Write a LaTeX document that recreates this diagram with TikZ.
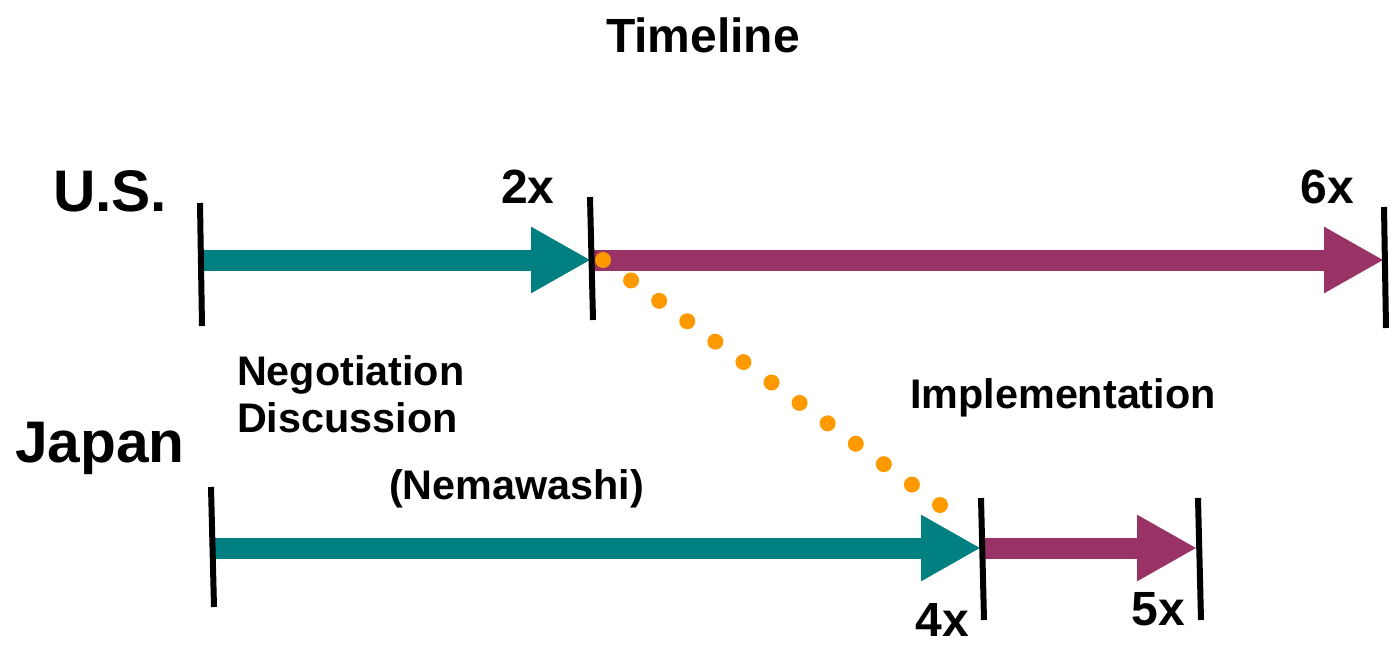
\documentclass[tikz,border=0pt]{standalone}
\usepackage{fontspec}
\setmainfont{Liberation Sans}
\usetikzlibrary{arrows.meta,calc}
\definecolor{tealc}{RGB}{0,128,128}
\definecolor{purplec}{RGB}{153,51,102}
\definecolor{orangec}{RGB}{255,153,0}
\begin{document}
\begin{tikzpicture}[x=0.75pt,y=-0.75pt,
  txt/.style={inner sep=0pt,outer sep=0pt,font=\bfseries},
  bigtxt/.style={txt,font=\fontsize{44}{52}\selectfont\bfseries},
  numtxt/.style={txt,font=\fontsize{36}{42}\selectfont\bfseries},
  labtxt/.style={txt,font=\fontsize{31}{35}\selectfont\bfseries},
  shaft/.style={line width=15.75pt,-{Triangle[length=45pt,width=46.5pt]}},
  tealarrow/.style={shaft,draw=tealc,fill=tealc},
  purplearrow/.style={shaft,draw=purplec,fill=purplec},
  tickline/.style={line width=4.5pt,black},
  dotc/.style={fill=orangec}]
\useasboundingbox (0,0) rectangle (1392,646);

% titles and labels
\node[txt,font=\fontsize{36}{42}\selectfont\bfseries,anchor=base] (title) at (703,52) {Timeline};
\node[bigtxt,anchor=base west] (us) at (53,211) {U.S.};
\node[bigtxt,anchor=base west] (jp) at (15,462) {Japan};
\node[labtxt,anchor=base west] (neg) at (237,385) {Negotiation};
\node[labtxt,anchor=base west] (disc) at (237,432) {Discussion};
\node[labtxt,anchor=base west] (nema) at (389,499) {(Nemawashi)};
\node[labtxt,anchor=base] (impl) at (1063,408) {Implementation};
\node[numtxt,anchor=base] (n2) at (528,203) {2x};
\node[numtxt,anchor=base] (n6) at (1327,203) {6x};
\node[numtxt,anchor=base] (n4) at (942,636) {4x};
\node[numtxt,anchor=base] (n5) at (1158,625) {5x};

% axis points
\coordinate (usA) at (201,260);
\coordinate (usB) at (591,260);
\coordinate (usC) at (1384,260);
\coordinate (jpA) at (213,548);
\coordinate (jpB) at (981,548);
\coordinate (jpC) at (1197,548);

% arrows
\draw[tealarrow] (usA) -- (usB);
\draw[purplearrow] (usB) -- (usC);
\draw[tealarrow] (jpA) -- (jpB);
\draw[purplearrow] ($(jpB)+(2,0)$) -- (jpC);

% ticks
\coordinate (t1a) at (200,203); \coordinate (t1b) at (202,326);
\coordinate (t2a) at (590,197); \coordinate (t2b) at (593,320);
\coordinate (t3a) at (1384,207); \coordinate (t3b) at (1386,328);
\coordinate (t4a) at (211,487); \coordinate (t4b) at (214,607);
\coordinate (t5a) at (981,498); \coordinate (t5b) at (984,620);
\coordinate (t6a) at (1198,498); \coordinate (t6b) at (1201,620);
\draw[tickline] (t1a) -- (t1b);
\draw[tickline] (t2a) -- (t2b);
\draw[tickline] (t3a) -- (t3b);
\draw[tickline] (t4a) -- (t4b);
\draw[tickline] (t5a) -- (t5b);
\draw[tickline] (t6a) -- (t6b);

% orange dotted link
\coordinate (dotA) at (603,260);
\coordinate (dotB) at (940,505);
\foreach \t in {0,...,12}{
  \fill[dotc] ($(dotA)!\t/12!(dotB)$) circle[radius=6pt];
}
\end{tikzpicture}
\end{document}
